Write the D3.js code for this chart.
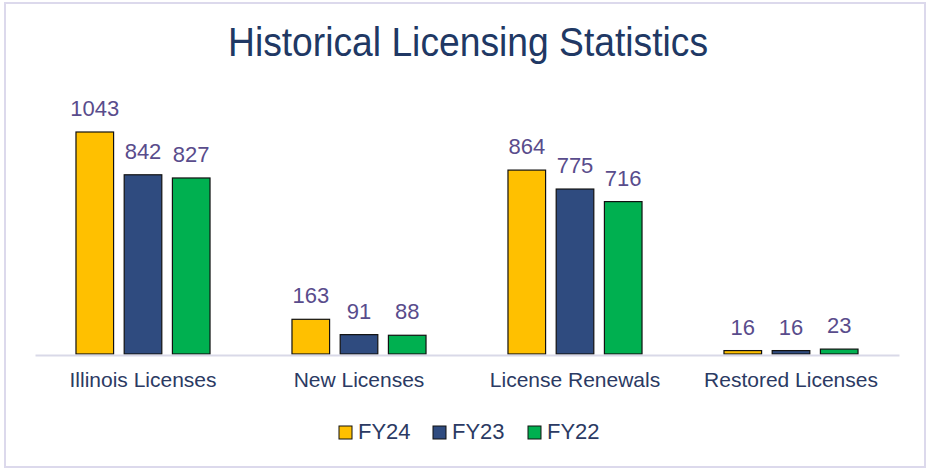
<!DOCTYPE html>
<html><head><meta charset="utf-8">
<script src="https://cdn.jsdelivr.net/npm/d3@7"></script>
<style>body{margin:0;background:#fff}svg{display:block}</style>
</head><body>
<svg id="c" width="927" height="469"></svg>
<script>
const categories = ["Illinois Licenses","New Licenses","License Renewals","Restored Licenses"];
const seriesNames = ["FY24","FY23","FY22"];
const FY24 = [1043,163,864,16];
const FY23 = [842,91,775,16];
const FY22 = [827,88,716,23];
const colors = ["#FFC000","#2F4B7F","#00B050"];
const series = [FY24,FY23,FY22];
const FONT = "Liberation Sans, Arial, sans-serif";

const svg = d3.select("#c");
svg.append("rect").attr("x",5).attr("y",3).attr("width",920).attr("height",464)
  .attr("fill","#fff").attr("stroke","#DCD9EC").attr("stroke-width",2);

svg.append("text").attr("x",468).attr("y",56).attr("text-anchor","middle")
  .attr("font-family",FONT).attr("font-size",40)
  .attr("fill","#203864").attr("textLength",480).attr("lengthAdjust","spacingAndGlyphs")
  .text("Historical Licensing Statistics");

const x0 = d3.scaleBand().domain(categories).range([35,899]).paddingInner(0).paddingOuter(0);
const x1 = d3.scaleBand().domain(seriesNames).range([0,x0.bandwidth()]).paddingInner(0.22).paddingOuter(0.85);
const y = d3.scaleLinear().domain([0,1043]).range([354,132]);

const g = svg.append("g");
categories.forEach((c,ci)=>{
  seriesNames.forEach((s,si)=>{
    const v = series[si][ci];
    const bx = x0(c)+x1(s);
    g.append("rect").attr("x",bx).attr("y",y(v)).attr("width",x1.bandwidth())
      .attr("height",y(0)-y(v)).attr("fill",colors[si]).attr("stroke","#111").attr("stroke-width",1.2);
    g.append("text").attr("x",bx+x1.bandwidth()/2).attr("y",y(v)-16)
      .attr("text-anchor","middle").attr("font-family",FONT)
      .attr("font-size",22).attr("fill","#594C8C").text(v);
  });
});

const xAxis = d3.axisBottom(x0).tickSize(0).tickPadding(17);
const ax = svg.append("g").attr("transform","translate(0,355)").call(xAxis);
ax.select(".domain").attr("stroke","#D9D9E8").attr("stroke-width",2);
ax.selectAll("text").attr("font-family",FONT)
  .attr("font-size",21).attr("fill","#2B3A63");

const lg = svg.append("g");
const lx = [339,433,528];
seriesNames.forEach((s,i)=>{
  lg.append("rect").attr("x",lx[i]).attr("y",426).attr("width",13).attr("height",13)
    .attr("fill",colors[i]).attr("stroke","#111").attr("stroke-width",1);
  lg.append("text").attr("x",lx[i]+19).attr("y",439).attr("font-family",FONT)
    .attr("font-size",22).attr("fill","#2B3A63").text(s);
});
</script>
</body></html>
